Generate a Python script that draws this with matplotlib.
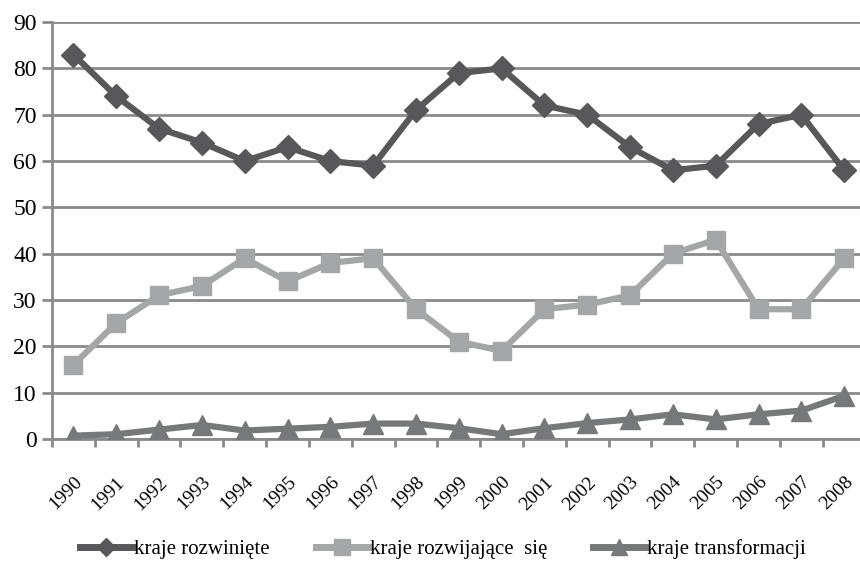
import numpy as np
import matplotlib.pyplot as plt
from matplotlib.lines import Line2D

plt.rcParams['font.family'] = ['Liberation Serif', 'DejaVu Serif']

lata = [str(r) for r in range(1990, 2009)]
rozwiniete = [83, 74, 67, 64, 60, 63, 60, 59, 71, 79, 80, 72, 70, 63, 58, 59, 68, 70, 58]
rozwijajace = [16, 25, 31, 33, 39, 34, 38, 39, 28, 21, 19, 28, 29, 31, 40, 43, 28, 28, 39]
transformacji = [0.7, 1, 2, 3, 1.8, 2.2, 2.6, 3.3, 3.3, 2.3, 1, 2.3, 3.4, 4.2, 5.3, 4.2, 5.3, 6.1, 9.3]

c_rozw = '#58585a'
c_rozwij = '#a5a6a8'
c_trans = '#77787a'
c_grid = '#8a8a8c'

fig = plt.figure(figsize=(8.6, 5.67), dpi=100)
ax = fig.add_axes([0.0605, 0.226, 0.946, 0.735])

x = np.arange(len(lata))
ax.plot(x, rozwiniete, color=c_rozw, lw=4.5, marker='D', ms=12, zorder=5)
ax.plot(x, rozwijajace, color=c_rozwij, lw=4.5, marker='s', ms=13, zorder=4)
ax.plot(x, transformacji, color=c_trans, lw=4.5, marker='^', ms=14, zorder=6)

ax.set_ylim(0, 90)
ax.set_xlim(-0.5, len(lata) - 0.5)
ax.set_yticks(range(0, 91, 10))
ax.yaxis.grid(True, color=c_grid, lw=2)
ax.set_axisbelow(True)

ax.set_xticks(x)
ax.set_xticklabels(lata, rotation=45, ha='right', rotation_mode='anchor', fontsize=14)
ax.set_xticks(np.arange(-0.5, len(lata), 1), minor=True)
ax.tick_params(axis='x', which='major', length=0, pad=25)
ax.tick_params(axis='x', which='minor', length=6, width=2, color=c_grid)
ax.tick_params(axis='y', length=7, width=2, color=c_grid, labelsize=17, pad=4)

for s in ['top', 'right']:
    ax.spines[s].set_visible(False)
ax.spines['left'].set_color(c_grid)
ax.spines['left'].set_linewidth(2)
ax.spines['bottom'].set_color(c_grid)
ax.spines['bottom'].set_linewidth(2)

uchwyty = [
    Line2D([], [], color=c_rozw, lw=5, marker='D', ms=9),
    Line2D([], [], color=c_rozwij, lw=5, marker='s', ms=11),
    Line2D([], [], color=c_trans, lw=5, marker='^', ms=11),
]
fig.legend(uchwyty, ['kraje rozwinięte', 'kraje rozwijające  się', 'kraje transformacji'],
           loc='center', bbox_to_anchor=(0.515, 0.032), ncol=3, frameon=False,
           fontsize=15, handlelength=2.5, handletextpad=0.1, columnspacing=2.2)

fig.savefig('out.png', dpi=100)
